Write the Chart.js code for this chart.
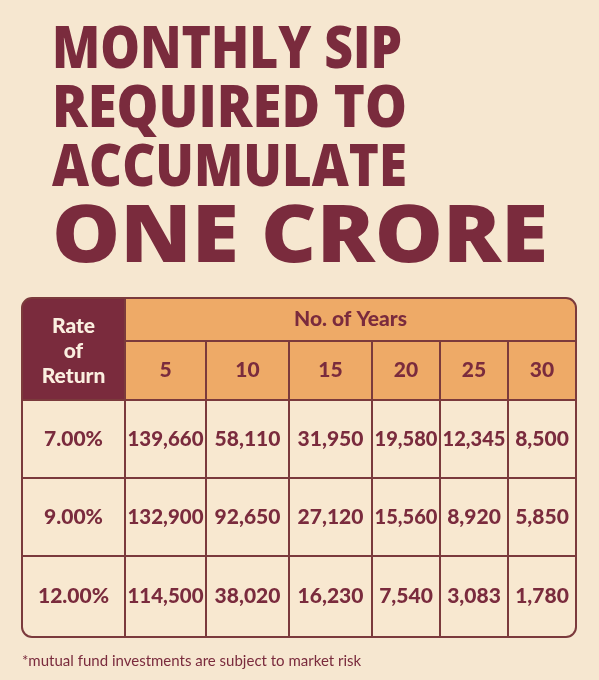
<!DOCTYPE html>
<html><head><meta charset="utf-8">
<script src="https://cdn.jsdelivr.net/npm/chart.js@4.4.1/dist/chart.umd.min.js"></script>
<style>
html,body{margin:0;padding:0;background:#f6e7d0;}
#wrap{position:relative;width:599px;height:680px;}
</style></head>
<body><div id="wrap"><canvas id="c" width="599" height="680"></canvas></div>
<script>
// Datos de la tabla
const titleLines = ['MONTHLY SIP', 'REQUIRED TO', 'ACCUMULATE', 'ONE CRORE'];
const years = ['5', '10', '15', '20', '25', '30'];
const rates = ['7.00%', '9.00%', '12.00%'];
const sip7 = [139660, 58110, 31950, 19580, 12345, 8500];
const sip9 = [132900, 92650, 27120, 15560, 8920, 5850];
const sip12 = [114500, 38020, 16230, 7540, 3083, 1780];
const footnote = '*mutual fund investments are subject to market risk';

// Geometria (en unidades de la escala)
const colEdges = [22, 125, 206, 289, 372, 440, 508, 576];
const rowEdges = [298, 341, 400, 478, 556, 637];
const maroon = '#7a2b3d', orange = '#eeaa67', line = '#7b3a3c', cellBg = '#f8e8d0';

const fmt = v => v.toLocaleString('en-US');

const tablePlugin = {
    id: 'tabla',
    afterDraw(chart) {
        const ctx = chart.ctx, x = chart.scales.x, y = chart.scales.y;
        const X = v => x.getPixelForValue(v), Y = v => y.getPixelForValue(v);
        ctx.save();
        // titulo
        ctx.fillStyle = maroon;
        ctx.textBaseline = 'alphabetic';
        const tSizes = [59, 59, 59, 80], tBase = [68, 127, 186, 262], tWidth = [350, 355, 355, 496];
        titleLines.forEach((t, i) => {
            ctx.font = `800 ${tSizes[i]}px "Open Sans"`;
            const w = ctx.measureText(t).width;
            ctx.save();
            ctx.translate(X(52), Y(tBase[i]));
            ctx.scale(tWidth[i] / w, 1);
            ctx.fillText(t, 0, 0);
            ctx.restore();
        });
        // fondo de tabla
        const L = X(colEdges[0]), R = X(colEdges[7]), T = Y(rowEdges[0]), B = Y(rowEdges[5]);
        ctx.beginPath();
        ctx.roundRect(L, T, R - L, B - T, 10);
        ctx.fillStyle = cellBg; ctx.fill();
        ctx.save(); ctx.clip();
        ctx.fillStyle = orange;
        ctx.fillRect(X(colEdges[1]), T, R - X(colEdges[1]), Y(rowEdges[2]) - T);
        ctx.fillStyle = maroon;
        ctx.fillRect(L, T, X(colEdges[1]) - L, Y(rowEdges[2]) - T);
        ctx.restore();
        // lineas
        ctx.strokeStyle = line; ctx.lineWidth = 2;
        ctx.beginPath();
        ctx.moveTo(X(colEdges[1]), Y(rowEdges[1])); ctx.lineTo(R, Y(rowEdges[1]));
        for (let r = 2; r <= 4; r++) { ctx.moveTo(L, Y(rowEdges[r])); ctx.lineTo(R, Y(rowEdges[r])); }
        ctx.moveTo(X(colEdges[1]), T); ctx.lineTo(X(colEdges[1]), B);
        for (let c = 2; c <= 6; c++) { ctx.moveTo(X(colEdges[c]), Y(rowEdges[1])); ctx.lineTo(X(colEdges[c]), B); }
        ctx.stroke();
        ctx.beginPath(); ctx.roundRect(L, T, R - L, B - T, 10); ctx.stroke();
        // textos de cabecera
        ctx.textAlign = 'center'; ctx.textBaseline = 'middle';
        const cx = c => (X(colEdges[c]) + X(colEdges[c + 1])) / 2;
        const cy = r => (Y(rowEdges[r]) + Y(rowEdges[r + 1])) / 2;
        ctx.font = '900 21px Lato'; ctx.fillStyle = '#fbefe0';
        ['Rate', 'of', 'Return'].forEach((t, i) => ctx.fillText(t, cx(0), Y(326 + i * 25)));
        ctx.fillStyle = maroon;
        ctx.fillText('No. of Years', (X(colEdges[1]) + R) / 2, cy(0));
        years.forEach((t, i) => ctx.fillText(t, cx(i + 1), cy(1)));
        // valores
        [sip7, sip9, sip12].forEach((row, r) => {
            ctx.font = '900 21px Lato';
            ctx.fillText(rates[r], cx(0), cy(r + 2));
            ctx.font = '900 21px Lato';
            row.forEach((v, i) => {
                const s = fmt(v), maxW = X(colEdges[i + 2]) - X(colEdges[i + 1]) - 5;
                const w = ctx.measureText(s).width;
                ctx.save(); ctx.translate(cx(i + 1), cy(r + 2));
                if (w > maxW) ctx.scale(maxW / w, 1);
                ctx.fillText(s, 0, 0); ctx.restore();
            });
        });
        ctx.font = '15px Lato'; ctx.textAlign = 'left';
        ctx.fillText(footnote, X(22), Y(661));
        ctx.restore();
    }
};

new Chart(document.getElementById('c'), {
    type: 'scatter',
    data: { datasets: [{ data: [], pointRadius: 0 }] },
    options: {
        responsive: false, animation: false,
        layout: { padding: 0 },
        plugins: { legend: { display: false }, tooltip: { enabled: false } },
        scales: {
            x: { type: 'linear', min: 0, max: 599, display: false },
            y: { type: 'linear', min: 0, max: 680, reverse: true, display: false }
        }
    },
    plugins: [tablePlugin]
});
</script></body></html>
